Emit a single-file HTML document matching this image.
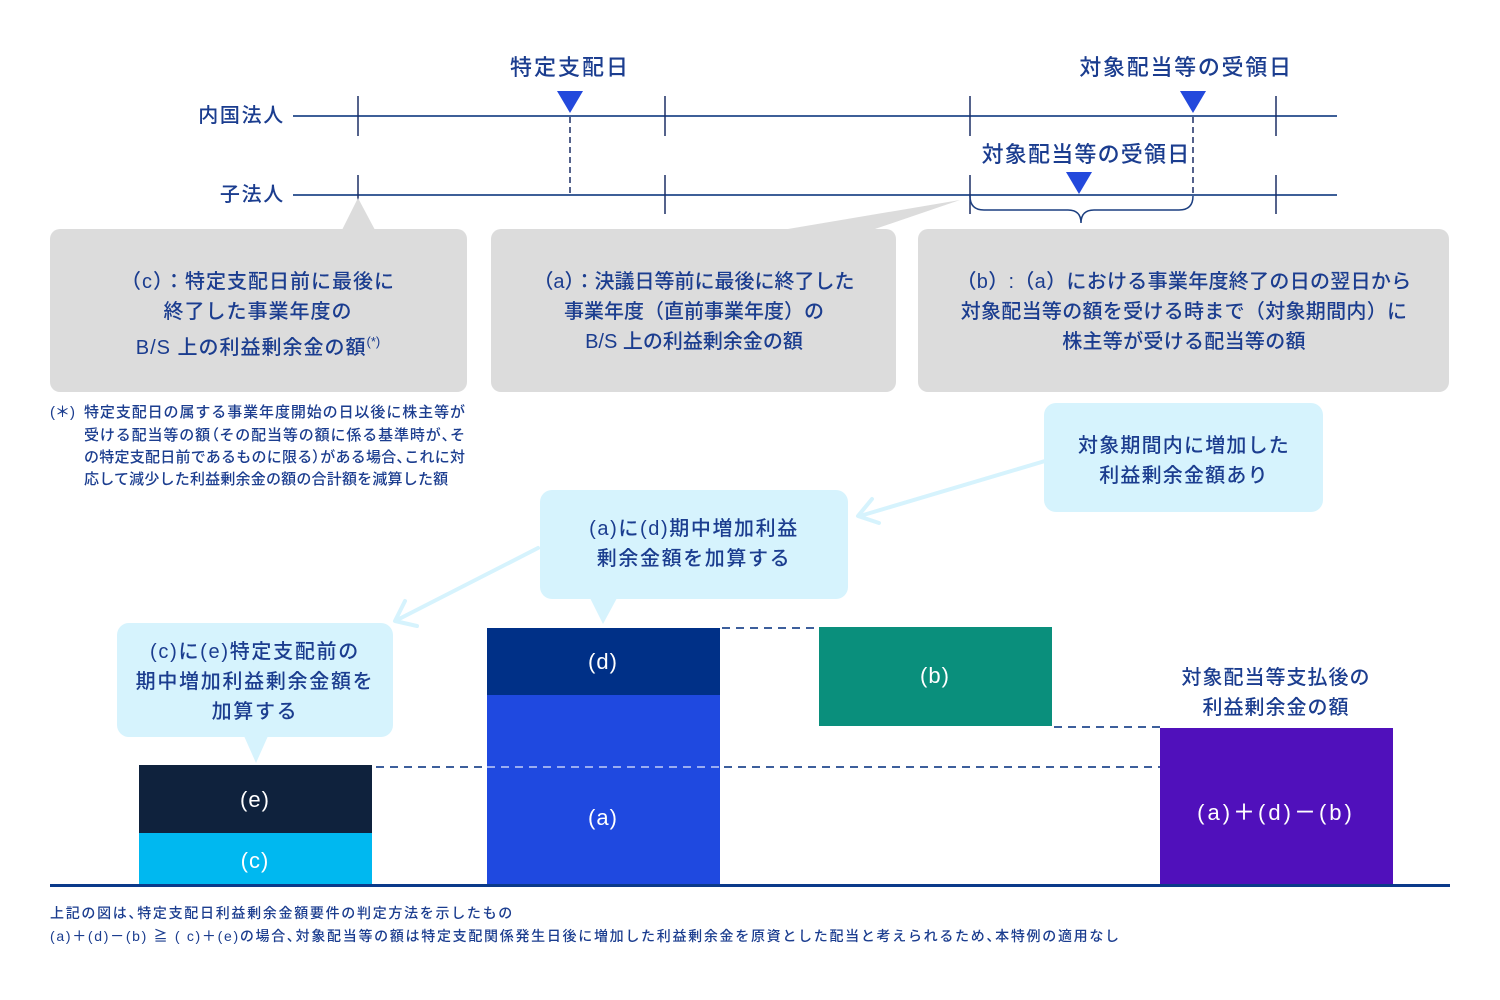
<!DOCTYPE html>
<html><head><meta charset="utf-8">
<style>
html,body{margin:0;padding:0;background:#fff;}
body{width:1500px;height:1000px;position:relative;overflow:hidden;font-family:"Liberation Sans","Noto Sans CJK JP",sans-serif;color:#1b3d8f;font-weight:500;}
svg{position:absolute;left:0;top:0;}
.t{position:absolute;white-space:nowrap;}
.c{text-align:center;transform:translateX(-50%);}
.w{color:#fff;}
.p{font-feature-settings:"palt";}
.j{position:absolute;left:84px;width:381px;font-size:15px;line-height:22px;height:22px;white-space:nowrap;text-align:justify;text-align-last:justify;text-justify:inter-character;}
</style></head><body>
<svg width="1500" height="1000" viewBox="0 0 1500 1000">
  <line x1="293" y1="116" x2="1337" y2="116" stroke="#3d5f98" stroke-width="2"/>
  <line x1="293" y1="195" x2="1337" y2="195" stroke="#3d5f98" stroke-width="2"/>
  <g stroke="#1c2f66" stroke-width="1.5">
    <line x1="358" y1="96" x2="358" y2="136"/>
    <line x1="665" y1="96" x2="665" y2="136"/>
    <line x1="970" y1="96" x2="970" y2="136"/>
    <line x1="1276" y1="96" x2="1276" y2="136"/>
    <line x1="358" y1="175" x2="358" y2="214"/>
    <line x1="665" y1="175" x2="665" y2="214"/>
    <line x1="970" y1="175" x2="970" y2="214"/>
    <line x1="1276" y1="175" x2="1276" y2="214"/>
    <line x1="570" y1="117" x2="570" y2="195" stroke-dasharray="6 4"/>
    <line x1="1193" y1="117" x2="1193" y2="197" stroke-dasharray="6 4"/>
  </g>
  <polygon points="557,91 583,91 570,113" fill="#2349dc"/>
  <polygon points="1180,91 1206,91 1193,113" fill="#2349dc"/>
  <polygon points="1066,172 1092,172 1079,194" fill="#2349dc"/>
  <path d="M970,196 Q970,210 984,210 L1068,210 Q1081,210 1081,223 Q1081,210 1094,210 L1179,210 Q1193,210 1193,196" stroke="#1c3f80" stroke-width="1.5" fill="none"/>

  <g fill="#dcdcdc">
    <rect x="50" y="229" width="417" height="163" rx="10"/>
    <rect x="491" y="229" width="405" height="163" rx="10"/>
    <rect x="918" y="229" width="531" height="163" rx="10"/>
    <polygon points="342,230 375,230 358,198"/>
    <polygon points="782,230 872,230 960,200"/>
  </g>

  <g fill="#d6f3fd">
    <rect x="1044" y="403" width="279" height="109" rx="12"/>
    <rect x="540" y="490" width="308" height="109" rx="12"/>
    <rect x="117" y="623" width="276" height="114" rx="12"/>
    <polygon points="590,598 617,598 603,624"/>
    <polygon points="244,736 268,736 256,763"/>
  </g>
  <g stroke="#d6f3fd" stroke-width="4" fill="none" stroke-linecap="round" stroke-linejoin="round">
    <line x1="1045" y1="461" x2="860" y2="516"/>
    <polyline points="872,499 858,516 879,523"/>
    <line x1="538" y1="548" x2="397" y2="620"/>
    <polyline points="405,601 395,621 417,626"/>
  </g>

  <rect x="139" y="765" width="233" height="68" fill="#0f223d"/>
  <rect x="139" y="833" width="233" height="52" fill="#00b8f0"/>
  <rect x="487" y="628" width="233" height="67" fill="#003087"/>
  <rect x="487" y="695" width="233" height="190" fill="#1f49e0"/>
  <rect x="819" y="627" width="233" height="99" fill="#0a8f7c"/>
  <rect x="1160" y="728" width="233" height="157" fill="#5010bb"/>
  <rect x="50" y="884" width="1400" height="3" fill="#0b3a8a"/>

  <g stroke-width="2" stroke-dasharray="8 6">
    <line x1="722" y1="628" x2="819" y2="628" stroke="#3d5f9c"/>
    <line x1="1054" y1="727" x2="1160" y2="727" stroke="#3d5f9c"/>
    <line x1="376" y1="767" x2="487" y2="767" stroke="#3d5f9c"/>
    <line x1="487" y1="767" x2="720" y2="767" stroke="rgba(255,255,255,0.55)"/>
    <line x1="724" y1="767" x2="1160" y2="767" stroke="#3d5f9c"/>
  </g>
</svg>

<div class="t c" style="left:570px;top:53px;font-size:22px;line-height:30px;letter-spacing:2px;">特定支配日</div>
<div class="t c" style="left:1186px;top:53px;font-size:22px;line-height:30px;letter-spacing:1.7px;">対象配当等の受領日</div>
<div class="t c" style="left:1086px;top:140px;font-size:22px;line-height:30px;letter-spacing:1.2px;">対象配当等の受領日</div>
<div class="t" style="right:1215px;top:102px;font-size:20px;line-height:28px;letter-spacing:1.7px;">内国法人</div>
<div class="t" style="right:1215px;top:181px;font-size:20px;line-height:28px;letter-spacing:1.7px;">子法人</div>

<div class="t c" style="left:258px;top:267px;font-size:20px;line-height:30px;letter-spacing:1px;">（c）：特定支配日前に最後に<br>終了した事業年度の<br>B/S 上の利益剰余金の額<span style="font-size:13px;vertical-align:8px;letter-spacing:0;">(*)</span></div>
<div class="t c" style="left:694px;top:267px;font-size:20px;line-height:30px;">（a）：決議日等前に最後に終了した<br>事業年度（直前事業年度）の<br>B/S 上の利益剰余金の額</div>
<div class="t c" style="left:1184px;top:267px;font-size:20px;line-height:30px;letter-spacing:0.3px;">（b）:（a）における事業年度終了の日の翌日から<br>対象配当等の額を受ける時まで（対象期間内）に<br>株主等が受ける配当等の額</div>

<div class="t" style="left:50px;top:402px;font-size:15px;line-height:22px;">(＊)</div>
<div class="j" style="top:402px;">特定支配日の属する事業年度開始の日以後に株主等が</div>
<div class="j" style="top:424.5px;">受ける配当等の額<span class="p">（</span>その配当等の額に係る基準時が<span class="p">、</span>そ</div>
<div class="j" style="top:447px;">の特定支配日前であるものに限る<span class="p">）</span>がある場合<span class="p">、</span>これに対</div>
<div class="t" style="left:84px;top:469px;font-size:15px;line-height:22px;letter-spacing:0.2px;">応して減少した利益剰余金の額の合計額を減算した額</div>

<div class="t c" style="left:1184px;top:431px;font-size:20px;line-height:30px;letter-spacing:1.2px;">対象期間内に増加した<br>利益剰余金額あり</div>
<div class="t c" style="left:694px;top:514px;font-size:20px;line-height:30px;letter-spacing:1.6px;">(a)に(d)期中増加利益<br>剰余金額を加算する</div>
<div class="t c" style="left:255px;top:637px;font-size:20px;line-height:30px;letter-spacing:1.7px;">(c)に(e)特定支配前の<br>期中増加利益剰余金額を<br>加算する</div>

<div class="t c w" style="left:603px;top:648px;font-size:22px;line-height:28px;letter-spacing:1px;">(d)</div>
<div class="t c w" style="left:603px;top:804px;font-size:22px;line-height:28px;letter-spacing:1px;">(a)</div>
<div class="t c w" style="left:255px;top:786px;font-size:22px;line-height:28px;letter-spacing:1px;">(e)</div>
<div class="t c w" style="left:255px;top:847px;font-size:22px;line-height:28px;letter-spacing:1px;">(c)</div>
<div class="t c w" style="left:935px;top:662px;font-size:22px;line-height:28px;letter-spacing:1px;">(b)</div>
<div class="t c w" style="left:1276px;top:799px;font-size:22px;line-height:28px;letter-spacing:3px;">(a)＋(d)－(b)</div>
<div class="t c" style="left:1276px;top:663px;font-size:20px;line-height:30px;letter-spacing:1px;">対象配当等支払後の<br>利益剰余金の額</div>

<div class="t" style="left:50px;top:902px;font-size:14px;line-height:23px;letter-spacing:1.7px;">上記の図は<span class="p">、</span>特定支配日利益剰余金額要件の判定方法を示したもの<br>(a)＋(d)－(b) ≧ ( c)＋(e)の場合<span class="p">、</span>対象配当等の額は特定支配関係発生日後に増加した利益剰余金を原資とした配当と考えられるため<span class="p">、</span>本特例の適用なし</div>
</body></html>
